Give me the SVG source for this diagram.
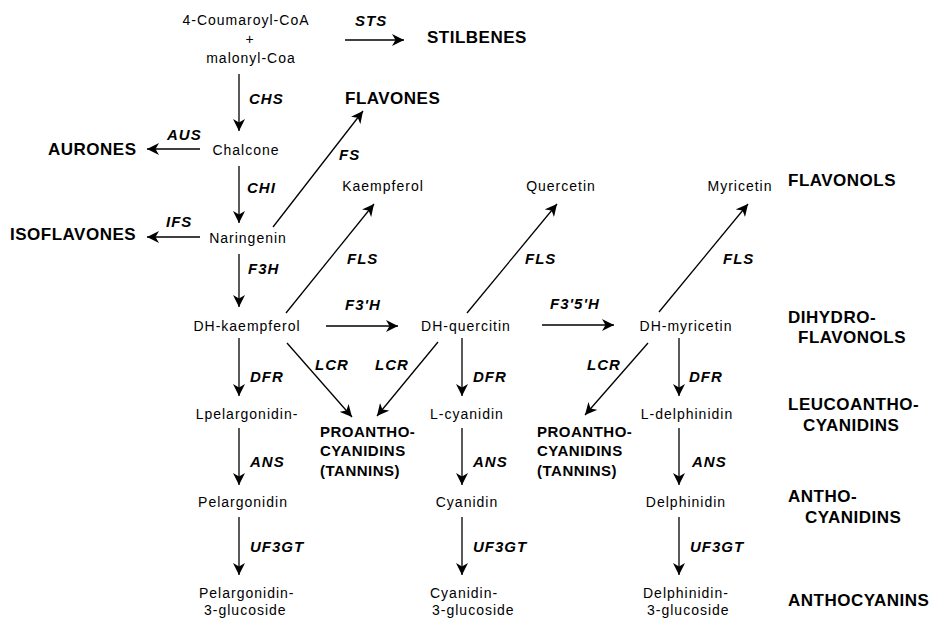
<svg xmlns="http://www.w3.org/2000/svg" width="929" height="618" viewBox="0 0 929 618">
<style>
.n{font-family:"Liberation Sans",Arial,sans-serif;font-size:14px;letter-spacing:1px;fill:#000;text-anchor:middle}
.ns{font-family:"Liberation Sans",Arial,sans-serif;font-size:14px;letter-spacing:1px;fill:#000}
.h{font-family:"Liberation Sans",Arial,sans-serif;font-size:17px;font-weight:bold;letter-spacing:0.5px;fill:#000}
.p{font-family:"Liberation Sans",Arial,sans-serif;font-size:15px;font-weight:bold;letter-spacing:0.5px;fill:#000}
.e{font-family:"Liberation Sans",Arial,sans-serif;font-size:15px;font-weight:bold;font-style:italic;letter-spacing:1px;fill:#000}
.c line{stroke:#000;stroke-width:1.3;marker-end:url(#ah)}
</style>
<defs>
<marker id="ah" viewBox="0 0 12 12" refX="12" refY="6" markerWidth="12" markerHeight="12" markerUnits="userSpaceOnUse" orient="auto">
<path d="M0,0 L12,6 L0,12 L3.5,6 z" fill="#000"/>
</marker>
</defs>
<rect width="929" height="618" fill="#fff"/>
<g id="connectors" class="c">
<line x1="345" y1="40" x2="404" y2="40"/>
<line x1="239" y1="74" x2="239" y2="131"/>
<line x1="200" y1="149" x2="147" y2="149"/>
<line x1="239" y1="166" x2="239" y2="223"/>
<line x1="200" y1="237" x2="147" y2="237"/>
<line x1="273" y1="227" x2="363" y2="111"/>
<line x1="239" y1="254" x2="239" y2="307"/>
<line x1="286" y1="313" x2="374" y2="204"/>
<line x1="467" y1="313" x2="557" y2="204"/>
<line x1="659" y1="312" x2="748" y2="204"/>
<line x1="326" y1="326" x2="398" y2="326"/>
<line x1="542" y1="325" x2="614" y2="325"/>
<line x1="239" y1="338" x2="239" y2="396"/>
<line x1="462" y1="338" x2="462" y2="396"/>
<line x1="679" y1="338" x2="679" y2="396"/>
<line x1="287" y1="343" x2="352" y2="417"/>
<line x1="438" y1="342" x2="377" y2="416"/>
<line x1="648" y1="343" x2="585" y2="415"/>
<line x1="239" y1="428" x2="239" y2="485"/>
<line x1="462" y1="428" x2="462" y2="485"/>
<line x1="679" y1="428" x2="679" y2="485"/>
<line x1="239" y1="517" x2="239" y2="575"/>
<line x1="462" y1="517" x2="462" y2="575"/>
<line x1="679" y1="517" x2="679" y2="575"/>
</g>
<g id="enzyme-labels">
<text class="e" x="355" y="26">STS</text>
<text class="e" x="249" y="104">CHS</text>
<text class="e" x="167" y="140">AUS</text>
<text class="e" x="339" y="160">FS</text>
<text class="e" x="247" y="193">CHI</text>
<text class="e" x="166" y="227">IFS</text>
<text class="e" x="248" y="274">F3H</text>
<text class="e" x="347" y="264">FLS</text>
<text class="e" x="525" y="264">FLS</text>
<text class="e" x="723" y="264">FLS</text>
<text class="e" x="345" y="310">F3'H</text>
<text class="e" x="550" y="309">F3'5'H</text>
<text class="e" x="250" y="382">DFR</text>
<text class="e" x="473" y="382">DFR</text>
<text class="e" x="689" y="382">DFR</text>
<text class="e" x="315" y="370">LCR</text>
<text class="e" x="375" y="370">LCR</text>
<text class="e" x="587" y="370">LCR</text>
<text class="e" x="250" y="467">ANS</text>
<text class="e" x="473" y="467">ANS</text>
<text class="e" x="692" y="467">ANS</text>
<text class="e" x="250" y="552">UF3GT</text>
<text class="e" x="473" y="552">UF3GT</text>
<text class="e" x="690" y="552">UF3GT</text>
</g>
<g id="start"><text class="n" x="246" y="25">4-Coumaroyl-CoA</text><text class="n" x="250" y="44">+</text><text class="n" x="251" y="63">malonyl-Coa</text></g>
<g id="stilbenes"><text class="h" x="427" y="43">STILBENES</text></g>
<g id="flavones"><text class="h" x="345" y="104">FLAVONES</text></g>
<g id="aurones"><text class="h" x="48" y="155">AURONES</text></g>
<g id="isoflavones"><text class="h" x="10" y="240">ISOFLAVONES</text></g>
<g id="chalcone"><text class="n" x="246" y="155">Chalcone</text></g>
<g id="naringenin"><text class="n" x="248" y="243">Naringenin</text></g>
<g id="kaempferol"><text class="n" x="383" y="191">Kaempferol</text></g>
<g id="quercetin"><text class="n" x="561" y="191">Quercetin</text></g>
<g id="myricetin"><text class="n" x="740" y="191">Myricetin</text></g>
<g id="flavonols"><text class="h" x="788" y="186">FLAVONOLS</text></g>
<g id="dh-kaempferol"><text class="n" x="247" y="331">DH-kaempferol</text></g>
<g id="dh-quercitin"><text class="n" x="466" y="331">DH-quercitin</text></g>
<g id="dh-myricetin"><text class="n" x="686" y="331">DH-myricetin</text></g>
<g id="dihydroflavonols"><text class="h" x="788" y="323">DIHYDRO-</text><text class="h" x="798" y="343">FLAVONOLS</text></g>
<g id="l-pelargonidin"><text class="n" x="247" y="419">Lpelargonidin-</text></g>
<g id="l-cyanidin"><text class="n" x="467" y="419">L-cyanidin</text></g>
<g id="l-delphinidin"><text class="n" x="687" y="419">L-delphinidin</text></g>
<g id="leucoanthocyanidins"><text class="h" x="788" y="410">LEUCOANTHO-</text><text class="h" x="803" y="431">CYANIDINS</text></g>
<g id="proanthocyanidins-1"><text class="p" x="320" y="437">PROANTHO-</text><text class="p" x="320" y="456">CYANIDINS</text><text class="p" x="320" y="476">(TANNINS)</text></g>
<g id="proanthocyanidins-2"><text class="p" x="537" y="437">PROANTHO-</text><text class="p" x="537" y="456">CYANIDINS</text><text class="p" x="537" y="476">(TANNINS)</text></g>
<g id="pelargonidin"><text class="n" x="243" y="507">Pelargonidin</text></g>
<g id="cyanidin"><text class="n" x="467" y="507">Cyanidin</text></g>
<g id="delphinidin"><text class="n" x="686" y="507">Delphinidin</text></g>
<g id="anthocyanidins"><text class="h" x="788" y="502">ANTHO-</text><text class="h" x="805" y="523">CYANIDINS</text></g>
<g id="pelargonidin-3-glucoside"><text class="ns" x="199" y="598">Pelargonidin-</text><text class="ns" x="204" y="615">3-glucoside</text></g>
<g id="cyanidin-3-glucoside"><text class="ns" x="430" y="598">Cyanidin-</text><text class="ns" x="432" y="615">3-glucoside</text></g>
<g id="delphinidin-3-glucoside"><text class="ns" x="643" y="598">Delphinidin-</text><text class="ns" x="647" y="615">3-glucoside</text></g>
<g id="anthocyanins"><text class="h" x="788" y="606">ANTHOCYANINS</text></g>
</svg>
